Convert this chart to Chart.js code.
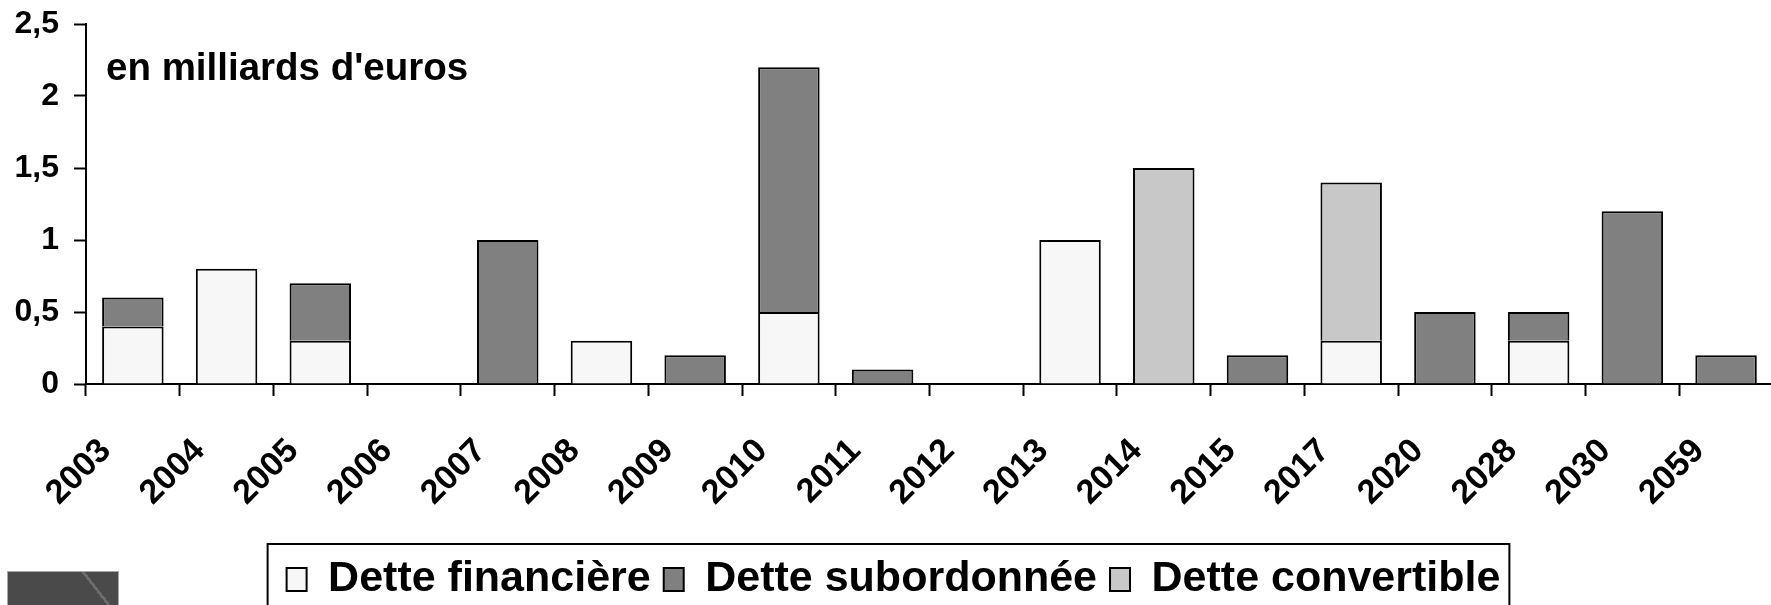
<!DOCTYPE html>
<html lang="fr">
<head>
<meta charset="utf-8">
<title>Échéancier de la dette</title>
<script src="https://cdn.jsdelivr.net/npm/chart.js@4/dist/chart.umd.min.js"></script>
<style>
    html, body { margin: 0; padding: 0; background: #fff; overflow: hidden; }
    #wrap { position: relative; width: 1771px; height: 605px; overflow: hidden; }
    #chart { position: absolute; left: 0; top: 0; }
    /* morceau de logo coupé en bas à gauche */
    .corner-logo {
        position: absolute; left: 7px; top: 571px; width: 110px; height: 40px;
        border: 1px solid #a8a8a8;
        background: linear-gradient(52deg, transparent 74%, #6c6c6c 74%, #6c6c6c 76.5%, transparent 76.5%), #4a4a4a;
    }
</style>
</head>
<body>
<div id="wrap">
    <canvas id="chart" width="1790" height="611"></canvas>
    <div class="corner-logo"></div>
</div>
<script>
// ============================================
// DONNÉES - échéances en milliards d'euros
// ============================================
const YEARS = ['2003', '2004', '2005', '2006', '2007', '2008', '2009', '2010', '2011',
               '2012', '2013', '2014', '2015', '2017', '2020', '2028', '2030', '2059'];

const DETTE_FINANCIERE  = [0.4, 0.8, 0.3, null, null, 0.3, null, 0.5, null, null, 1.0, null, null, 0.3, null, 0.3, null, null];
const DETTE_SUBORDONNEE = [0.2, null, 0.4, null, 1.0, null, 0.2, 1.7, 0.1, null, null, null, 0.2, null, 0.5, 0.2, 1.2, 0.2];
const DETTE_CONVERTIBLE = [null, null, null, null, null, null, null, null, null, null, null, 1.5, null, 1.1, null, null, null, null];

const Y_TICKS = [0, 0.5, 1, 1.5, 2, 2.5];
const UNIT_LABEL = "en milliards d'euros";

const FONT = '"Liberation Sans", Arial, sans-serif';
const LEGEND_PAD = 13;

Chart.defaults.font.family = FONT;
Chart.defaults.font.weight = 'bold';
Chart.defaults.color = '#000';

// texte d'unité + cadre de légende
const extrasPlugin = {
    id: 'extras',
    afterDraw(chart) {
        const { ctx, chartArea, legend } = chart;
        ctx.save();
        ctx.fillStyle = '#000';
        ctx.font = 'bold 38.5px ' + FONT;
        ctx.textBaseline = 'alphabetic';
        ctx.fillText(UNIT_LABEL, chartArea.left + 20, chartArea.top + 56);

        const boxes = legend.legendHitBoxes || [];
        if (boxes.length) {
            const first = boxes[0];
            const last = boxes[boxes.length - 1];
            const x0 = first.left - 19;
            const x1 = last.left + last.width + 9;
            ctx.strokeStyle = '#000';
            ctx.lineWidth = 2;
            ctx.strokeRect(x0, legend.top + LEGEND_PAD - 14, x1 - x0, chart.height);
        }
        ctx.restore();
    }
};

function barSet(label, data, color) {
    // borderSkipped par défaut ('start') : pas de double trait entre segments empilés
    return {
        label,
        data,
        backgroundColor: color,
        borderColor: '#000',
        borderWidth: 2,
        barPercentage: 0.656,
        categoryPercentage: 1
    };
}

new Chart(document.getElementById('chart'), {
    type: 'bar',
    data: {
        labels: YEARS,
        datasets: [
            barSet('Dette financière', DETTE_FINANCIERE, '#f7f7f7'),
            barSet('Dette subordonnée', DETTE_SUBORDONNEE, '#808080'),
            barSet('Dette convertible', DETTE_CONVERTIBLE, '#c8c8c8')
        ]
    },
    options: {
        responsive: false,
        animation: false,
        layout: { padding: { left: 0, right: 3, top: 24, bottom: 0 } },
        scales: {
            x: {
                stacked: true,
                z: 1,
                grid: { display: true, drawOnChartArea: false, offset: true, tickLength: 12, tickColor: '#000', tickWidth: 2 },
                border: { color: '#000', width: 2 },
                ticks: {
                    autoSkip: false,
                    maxRotation: 45,
                    minRotation: 45,
                    padding: 35,
                    labelOffset: -27,
                    font: { size: 34, weight: 'bold' },
                    color: '#000'
                },
                afterFit: s => { s.height = 164 - (LEGEND_PAD - 10); }
            },
            y: {
                stacked: true,
                min: 0,
                max: 2.5,
                afterBuildTicks: s => { s.ticks = Y_TICKS.map(v => ({ value: v })); },
                grid: { display: true, drawOnChartArea: false, tickLength: 12, tickColor: '#000', tickWidth: 2 },
                border: { color: '#000', width: 2 },
                ticks: {
                    padding: 15,
                    font: { size: 32, weight: 'bold' },
                    color: '#000',
                    callback: v => String(v).replace('.', ',')
                },
                afterFit: s => {
                    s.width = 86;
                    s.paddingTop = 0;
                    s.paddingBottom = 0;
                }
            }
        },
        plugins: {
            legend: {
                position: 'bottom',
                labels: {
                    font: { size: 43, weight: 'bold' },
                    boxWidth: 20,
                    boxHeight: 23,
                    padding: LEGEND_PAD,
                    color: '#000'
                }
            },
            tooltip: { enabled: false }
        }
    },
    plugins: [extrasPlugin]
});
</script>
</body>
</html>
